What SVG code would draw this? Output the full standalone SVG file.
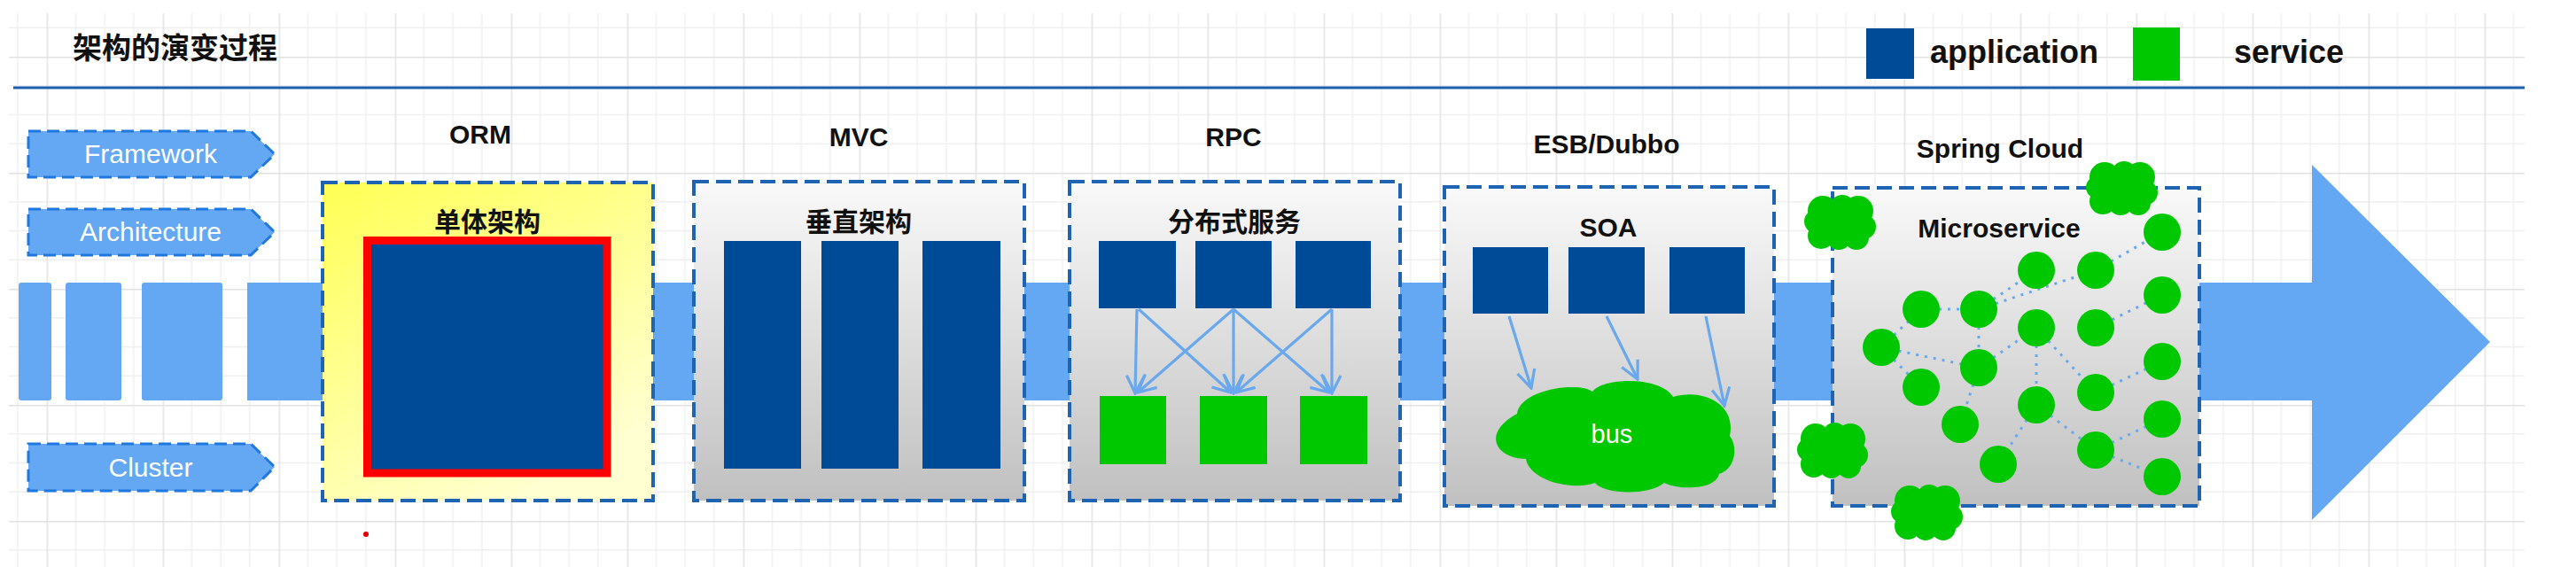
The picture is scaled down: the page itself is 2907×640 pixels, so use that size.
<svg xmlns="http://www.w3.org/2000/svg" xmlns:xlink="http://www.w3.org/1999/xlink" width="2907" height="640" viewBox="0 0 2907 640">
<defs>
<pattern id="grid" patternUnits="userSpaceOnUse" x="52.6" y="64" width="131" height="131">
<path d="M32.75,0V131M65.5,0V131M98.25,0V131M0,32.75H131M0,65.5H131M0,98.25H131" stroke="#f0f0f0" stroke-width="1.5" fill="none"/>
<path d="M0.5,0V131M0,0.5H131" stroke="#e2e2e2" stroke-width="2" fill="none"/>
</pattern>
<linearGradient id="gray" x1="0" y1="0" x2="0" y2="1">
<stop offset="0" stop-color="#f9f9f9"/>
<stop offset="1" stop-color="#c0c0c0"/>
</linearGradient>
<linearGradient id="yellow" x1="0" y1="0" x2="0.6" y2="1">
<stop offset="0" stop-color="#ffff55"/>
<stop offset="1" stop-color="#ffffd2"/>
</linearGradient>
<marker id="arr" viewBox="0 0 24 24" refX="22" refY="12" markerWidth="24" markerHeight="24" markerUnits="userSpaceOnUse" orient="auto">
<path d="M2,2 L22,12 L2,22" fill="none" stroke="#6aa8ee" stroke-width="3.2"/>
</marker>
<symbol id="blob" viewBox="0 0 82 62" preserveAspectRatio="none">
<g fill="#00c800">
<circle cx="22" cy="18" r="17"/><circle cx="44" cy="14" r="14"/><circle cx="62" cy="18" r="17"/>
<circle cx="68" cy="36" r="14"/><circle cx="60" cy="48" r="14"/><circle cx="40" cy="48" r="14"/>
<circle cx="20" cy="46" r="15"/><circle cx="14" cy="30" r="13"/><circle cx="41" cy="31" r="20"/>
</g>
</symbol>
<style>
.box{stroke:#1f64b3;stroke-width:4;stroke-dasharray:17 8}
.tag{fill:#64a7f2;stroke:#1f78e0;stroke-width:3;stroke-dasharray:14 7}
.tagt{font-family:"Liberation Sans",Arial,sans-serif;font-size:30px;fill:#ffffff;text-anchor:middle}
.lbl{font-family:"Liberation Sans",Arial,sans-serif;font-size:30px;font-weight:bold;fill:#111111;text-anchor:middle}
.cjk{font-family:"Liberation Sans","Noto Sans CJK SC",sans-serif;font-size:30px;font-weight:bold;fill:#111111;text-anchor:middle}
.app{fill:#004b97}
.svc{fill:#00c800}
.band{fill:#64a7f2}
.rpc{stroke:#6aa8ee;stroke-width:3.2;fill:none;marker-end:url(#arr)}
.dot{stroke:#6aa8ee;stroke-width:3;stroke-dasharray:3 7;fill:none}
</style>
</defs>
<rect x="0" y="0" width="2907" height="640" fill="#ffffff"/>
<rect x="10" y="15" width="2839" height="625" fill="url(#grid)"/>

<g id="header">
<text x="82" y="66" style="font-family:'Liberation Sans','Noto Sans CJK SC',sans-serif;font-size:33px;font-weight:bold;fill:#111">架构的演变过程</text>
<line x1="15" y1="99" x2="2849" y2="99" stroke="#1d5fae" stroke-width="3"/>
</g>

<g id="legend">
<rect class="app" x="2106" y="32" width="54" height="57"/>
<text x="2178" y="71" style="font-family:'Liberation Sans',Arial,sans-serif;font-size:36px;font-weight:bold;fill:#111">application</text>
<rect class="svc" x="2407" y="31" width="53" height="60"/>
<text x="2521" y="71" style="font-family:'Liberation Sans',Arial,sans-serif;font-size:36px;font-weight:bold;fill:#111">service</text>
</g>

<g id="timeline-arrow">
<rect class="band" x="21" y="319" width="37" height="133" rx="3"/>
<rect class="band" x="74" y="319" width="63" height="133" rx="3"/>
<rect class="band" x="160" y="319" width="91" height="133" rx="3"/>
<path class="band" d="M279,319 H2609 V186 L2810,386 L2609,587 V452 H279 Z"/>
</g>

<g id="tag-framework">
<path class="tag" d="M32,148 L283,148 L310,174 L283,200 L32,200 Z"/>
<text class="tagt" x="170" y="184">Framework</text>
</g>
<g id="tag-architecture">
<path class="tag" d="M32,236 L283,236 L310,262 L283,288 L32,288 Z"/>
<text class="tagt" x="170" y="272">Architecture</text>
</g>
<g id="tag-cluster">
<path class="tag" d="M32,501 L283,501 L310,527 L283,554 L32,554 Z"/>
<text class="tagt" x="170" y="538">Cluster</text>
</g>

<g id="stage-orm">
<text class="lbl" x="542" y="162">ORM</text>
<rect class="box" x="364" y="206" width="373" height="359" fill="url(#yellow)"/>
<text class="cjk" x="550" y="261">单体架构</text>
<rect x="414.5" y="271.5" width="270.5" height="262.5" fill="#004b97" stroke="#ff0000" stroke-width="9"/>
<circle cx="413" cy="603" r="3" fill="#e00000"/>
</g>

<g id="stage-mvc">
<text class="lbl" x="969" y="165">MVC</text>
<rect class="box" x="783" y="205" width="373" height="360" fill="url(#gray)"/>
<text class="cjk" x="969" y="261">垂直架构</text>
<rect class="app" x="817" y="272" width="87" height="257"/>
<rect class="app" x="927" y="272" width="87" height="257"/>
<rect class="app" x="1041" y="272" width="88" height="257"/>
</g>

<g id="stage-rpc">
<text class="lbl" x="1392" y="165">RPC</text>
<rect class="box" x="1207" y="205" width="373" height="360" fill="url(#gray)"/>
<text class="cjk" x="1393" y="261">分布式服务</text>
<rect class="app" x="1240" y="272" width="87" height="76"/>
<rect class="app" x="1349" y="272" width="86" height="76"/>
<rect class="app" x="1462" y="272" width="85" height="76"/>
<rect class="svc" x="1241" y="447" width="75" height="77"/>
<rect class="svc" x="1354" y="447" width="76" height="77"/>
<rect class="svc" x="1467" y="447" width="76" height="77"/>
</g>

<g id="stage-soa">
<text class="lbl" x="1813" y="173">ESB/Dubbo</text>
<rect class="box" x="1630" y="211" width="372" height="360" fill="url(#gray)"/>
<text class="lbl" x="1815" y="267">SOA</text>
<rect class="app" x="1662" y="279" width="85" height="75"/>
<rect class="app" x="1770" y="279" width="86" height="75"/>
<rect class="app" x="1884" y="279" width="85" height="75"/>
<path class="svc" d="M1712,467 C1715,440 1780,430 1797,442 C1810,425 1875,425 1888,448 C1920,438 1960,455 1952,492 C1962,505 1958,530 1940,535 C1935,555 1890,552 1878,545 C1860,560 1810,558 1800,545 C1770,555 1725,540 1722,518 C1690,518 1670,490 1712,467 Z"/>
<text x="1819" y="500" style="font-family:'Liberation Sans',Arial,sans-serif;font-size:29px;fill:#ffffff;text-anchor:middle">bus</text>
</g>

<g id="stage-microservice">
<text class="lbl" x="2257" y="178">Spring Cloud</text>
<rect class="box" x="2068" y="212" width="414" height="359" fill="url(#gray)"/>
<text class="lbl" x="2256" y="268">Microservice</text>
</g>

<g id="connectors">
<line class="rpc" x1="1283" y1="349" x2="1281" y2="444"/>
<line class="rpc" x1="1285" y1="349" x2="1389" y2="443"/>
<line class="rpc" x1="1392" y1="349" x2="1284" y2="443"/>
<line class="rpc" x1="1392" y1="349" x2="1392" y2="444"/>
<line class="rpc" x1="1392" y1="349" x2="1500" y2="443"/>
<line class="rpc" x1="1503" y1="349" x2="1395" y2="443"/>
<line class="rpc" x1="1503" y1="349" x2="1503" y2="444"/>
<line class="rpc" x1="1703" y1="357" x2="1728" y2="438"/>
<line class="rpc" x1="1813" y1="357" x2="1848" y2="428"/>
<line class="rpc" x1="1925" y1="357" x2="1946" y2="458"/>
<g id="mesh">
<line class="dot" x1="2123" y1="392" x2="2168" y2="349"/>
<line class="dot" x1="2168" y1="349" x2="2233" y2="349"/>
<line class="dot" x1="2233" y1="349" x2="2298" y2="305"/>
<line class="dot" x1="2233" y1="349" x2="2365" y2="305"/>
<line class="dot" x1="2365" y1="305" x2="2440" y2="262"/>
<line class="dot" x1="2233" y1="349" x2="2233" y2="415"/>
<line class="dot" x1="2123" y1="392" x2="2233" y2="415"/>
<line class="dot" x1="2123" y1="392" x2="2168" y2="437"/>
<line class="dot" x1="2233" y1="415" x2="2298" y2="370"/>
<line class="dot" x1="2233" y1="415" x2="2212" y2="479"/>
<line class="dot" x1="2298" y1="370" x2="2298" y2="457"/>
<line class="dot" x1="2298" y1="370" x2="2365" y2="443"/>
<line class="dot" x1="2440" y1="333" x2="2365" y2="370"/>
<line class="dot" x1="2365" y1="443" x2="2440" y2="408"/>
<line class="dot" x1="2298" y1="457" x2="2255" y2="524"/>
<line class="dot" x1="2298" y1="457" x2="2365" y2="508"/>
<line class="dot" x1="2365" y1="508" x2="2440" y2="473"/>
<line class="dot" x1="2365" y1="508" x2="2440" y2="538"/>
</g>
</g>

<g id="services" class="svc">
<circle cx="2440" cy="262" r="21"/>
<circle cx="2298" cy="305" r="21"/>
<circle cx="2365" cy="305" r="21"/>
<circle cx="2440" cy="333" r="21"/>
<circle cx="2168" cy="349" r="21"/>
<circle cx="2233" cy="349" r="21"/>
<circle cx="2298" cy="370" r="21"/>
<circle cx="2365" cy="370" r="21"/>
<circle cx="2123" cy="392" r="21"/>
<circle cx="2233" cy="415" r="21"/>
<circle cx="2440" cy="408" r="21"/>
<circle cx="2168" cy="437" r="21"/>
<circle cx="2365" cy="443" r="21"/>
<circle cx="2298" cy="457" r="21"/>
<circle cx="2440" cy="473" r="21"/>
<circle cx="2212" cy="479" r="21"/>
<circle cx="2255" cy="524" r="21"/>
<circle cx="2365" cy="508" r="21"/>
<circle cx="2440" cy="538" r="21"/>
</g>

<g id="clouds">
<use xlink:href="#blob" href="#blob" x="2035" y="220" width="82" height="62"/>
<use xlink:href="#blob" href="#blob" x="2353" y="182" width="82" height="61"/>
<use xlink:href="#blob" href="#blob" x="2027" y="477" width="81" height="63"/>
<use xlink:href="#blob" href="#blob" x="2133" y="547" width="82" height="63"/>
</g>
</svg>
